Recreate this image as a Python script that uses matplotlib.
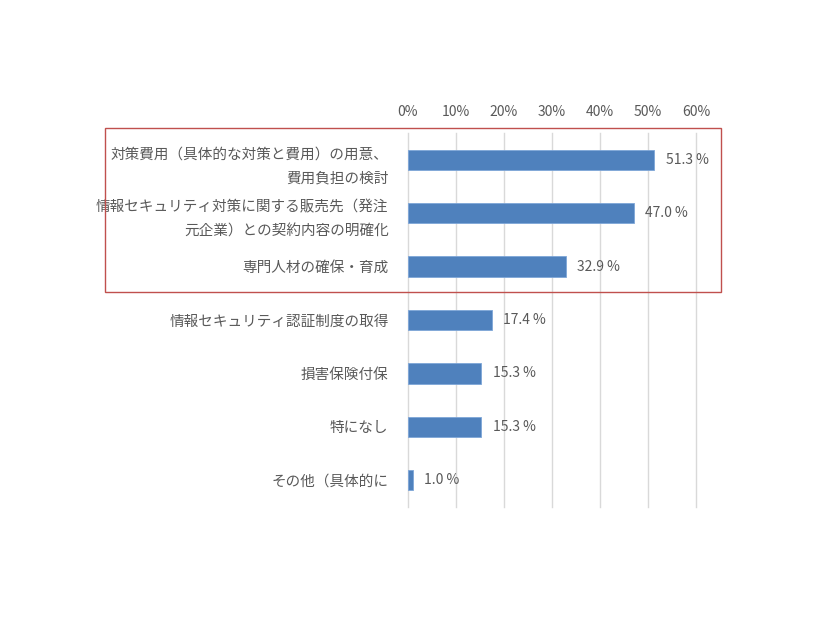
import matplotlib
matplotlib.use("Agg")
import matplotlib.pyplot as plt
from matplotlib.patches import Rectangle

plt.rcParams['font.family'] = ['Noto Sans CJK JP', 'DejaVu Sans']

categories = [
    "対策費用（具体的な対策と費用）の用意、\n費用負担の検討",
    "情報セキュリティ対策に関する販売先（発注\n元企業）との契約内容の明確化",
    "専門人材の確保・育成",
    "情報セキュリティ認証制度の取得",
    "損害保険付保",
    "特になし",
    "その他（具体的に",
]
values = [51.3, 47.0, 32.9, 17.4, 15.3, 15.3, 1.0]
xticks = [0, 10, 20, 30, 40, 50, 60]

text_color = "#595959"
bar_color = "#4f81bd"

fig = plt.figure(figsize=(8.26, 6.2), dpi=100)
ax = fig.add_axes([408 / 826, 1 - 507 / 620, 288 / 826, 374 / 620])

ypos = list(range(len(categories)))
ax.barh(ypos, values, height=0.38, color=bar_color, edgecolor="#7ea6d8",
        linewidth=0.6, zorder=3)

for y, v in zip(ypos, values):
    ax.text(v + 2.4, y, f"{v:.1f} %", va="center", ha="left",
            fontsize=10, color=text_color)

ax.set_xlim(0, 60)
ax.set_ylim(len(categories) - 0.5, -0.5)
ax.set_xticks(xticks)
ax.set_xticklabels([f"{t}%" for t in xticks], fontsize=10, color=text_color)
ax.xaxis.tick_top()
ax.tick_params(axis="x", length=0, pad=10)

ax.set_yticks(ypos)
ax.set_yticklabels(categories, fontsize=10.5, color=text_color,
                   linespacing=1.9, ha="right")
ax.tick_params(axis="y", length=0, pad=14)

ax.grid(axis="x", color="#d9d9d9", linewidth=1.0, zorder=0)
for gl in ax.get_xgridlines():
    gl.set_clip_on(False)
for s in ax.spines.values():
    s.set_visible(False)

# red highlight frame around the top three items
fig.patches.append(Rectangle((105 / 826, 1 - 292 / 620), 616 / 826, 164 / 620,
                             transform=fig.transFigure, fill=False,
                             edgecolor="#c0504d", linewidth=1.0))

fig.savefig("out.png", dpi=100)
